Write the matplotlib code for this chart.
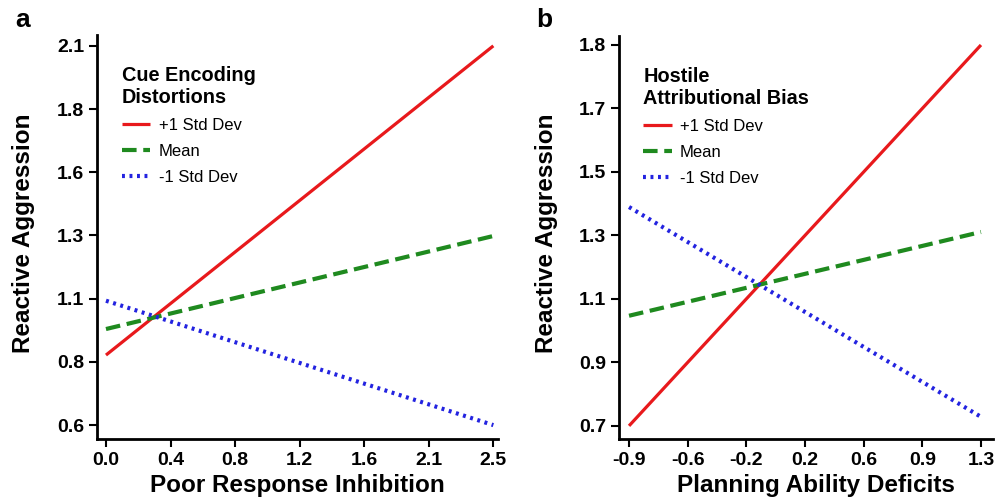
import numpy as np
import matplotlib.pyplot as plt

plt.rcParams['font.family'] = ['Liberation Sans', 'DejaVu Sans']

# panel a
a_x = [0.0, 2.5]
a_plus = [0.877, 2.1]
a_mean = [0.98, 1.348]
a_minus = [1.092, 0.6]
a_xticks = list(np.linspace(0.0, 2.5, 7))
a_xlabels = ['0.0', '0.4', '0.8', '1.2', '1.6', '2.1', '2.5']
a_yticks = list(np.linspace(0.6, 2.1, 7))
a_ylabels = ['0.6', '0.8', '1.1', '1.3', '1.6', '1.8', '2.1']

# panel b
b_x = [-0.9, 1.3]
b_plus = [0.7, 1.8]
b_mean = [1.018, 1.26]
b_minus = [1.332, 0.726]
b_xticks = list(np.linspace(-0.9, 1.3, 7))
b_xlabels = ['-0.9', '-0.6', '-0.2', '0.2', '0.6', '0.9', '1.3']
b_yticks = list(np.linspace(0.7, 1.8, 7))
b_ylabels = ['0.7', '0.9', '1.1', '1.3', '1.5', '1.7', '1.8']

series_names = ['+1 Std Dev', 'Mean', '-1 Std Dev']

red = '#e8191c'
green = '#1f8a1f'
blue = '#2323e0'

fig = plt.figure(figsize=(10.03, 4.99), dpi=100)
ax1 = fig.add_axes([0.0967, 0.1202, 0.3998, 0.8097])
ax2 = fig.add_axes([0.6171, 0.1202, 0.3729, 0.8077])


def style(ax, x, ys, xticks, xlabels, yticks, ylabels, xlim, ylim,
          xlabel, title, xlab_x, ylab_x):
    ax.plot(x, ys[0], color=red, lw=2.3, solid_capstyle='butt', label=series_names[0])
    ax.plot(x, ys[1], color=green, lw=3, ls=(0, (3.5, 1.6)), label=series_names[1])
    ax.plot(x, ys[2], color=blue, lw=3, ls=(0, (0.7, 1.1)), label=series_names[2])
    ax.set_xlim(*xlim)
    ax.set_ylim(*ylim)
    ax.set_xticks(xticks)
    ax.set_xticklabels(xlabels)
    ax.set_yticks(yticks)
    ax.set_yticklabels(ylabels)
    for s in ['top', 'right']:
        ax.spines[s].set_visible(False)
    for s in ['left', 'bottom']:
        ax.spines[s].set_linewidth(2)
    ax.tick_params(length=6, width=1.5, labelsize=14, pad=3)
    for t in ax.get_xticklabels() + ax.get_yticklabels():
        t.set_fontweight('bold')
    ax.set_xlabel(xlabel, fontsize=17.5, fontweight='bold')
    ax.set_ylabel('Reactive Aggression', fontsize=17.5, fontweight='bold')
    ax.xaxis.set_label_coords(xlab_x, -0.087)
    ax.yaxis.set_label_coords(ylab_x, 0.51)
    leg = ax.legend(title=title, loc='upper left', bbox_to_anchor=(0.025, 0.96),
                    frameon=False, fontsize=12, handlelength=1.7,
                    handletextpad=0.5, labelspacing=0.65, alignment='left',
                    title_fontproperties={'weight': 'bold', 'size': 14.3})
    leg._legend_box.sep = 8


style(ax1, a_x, [a_plus, a_mean, a_minus], a_xticks, a_xlabels, a_yticks, a_ylabels,
      (-0.058, 2.53), (0.545, 2.143), 'Poor Response Inhibition',
      'Cue Encoding\nDistortions', 0.50, -0.155)
style(ax2, b_x, [b_plus, b_mean, b_minus], b_xticks, b_xlabels, b_yticks, b_ylabels,
      (-0.963, 1.375), (0.662, 1.826), 'Planning Ability Deficits',
      'Hostile\nAttributional Bias', 0.527, -0.163)

fig.text(0.015, 0.945, 'a', fontsize=19, fontweight='bold')
fig.text(0.535, 0.945, 'b', fontsize=19, fontweight='bold')

fig.savefig('out.png', dpi=100)
